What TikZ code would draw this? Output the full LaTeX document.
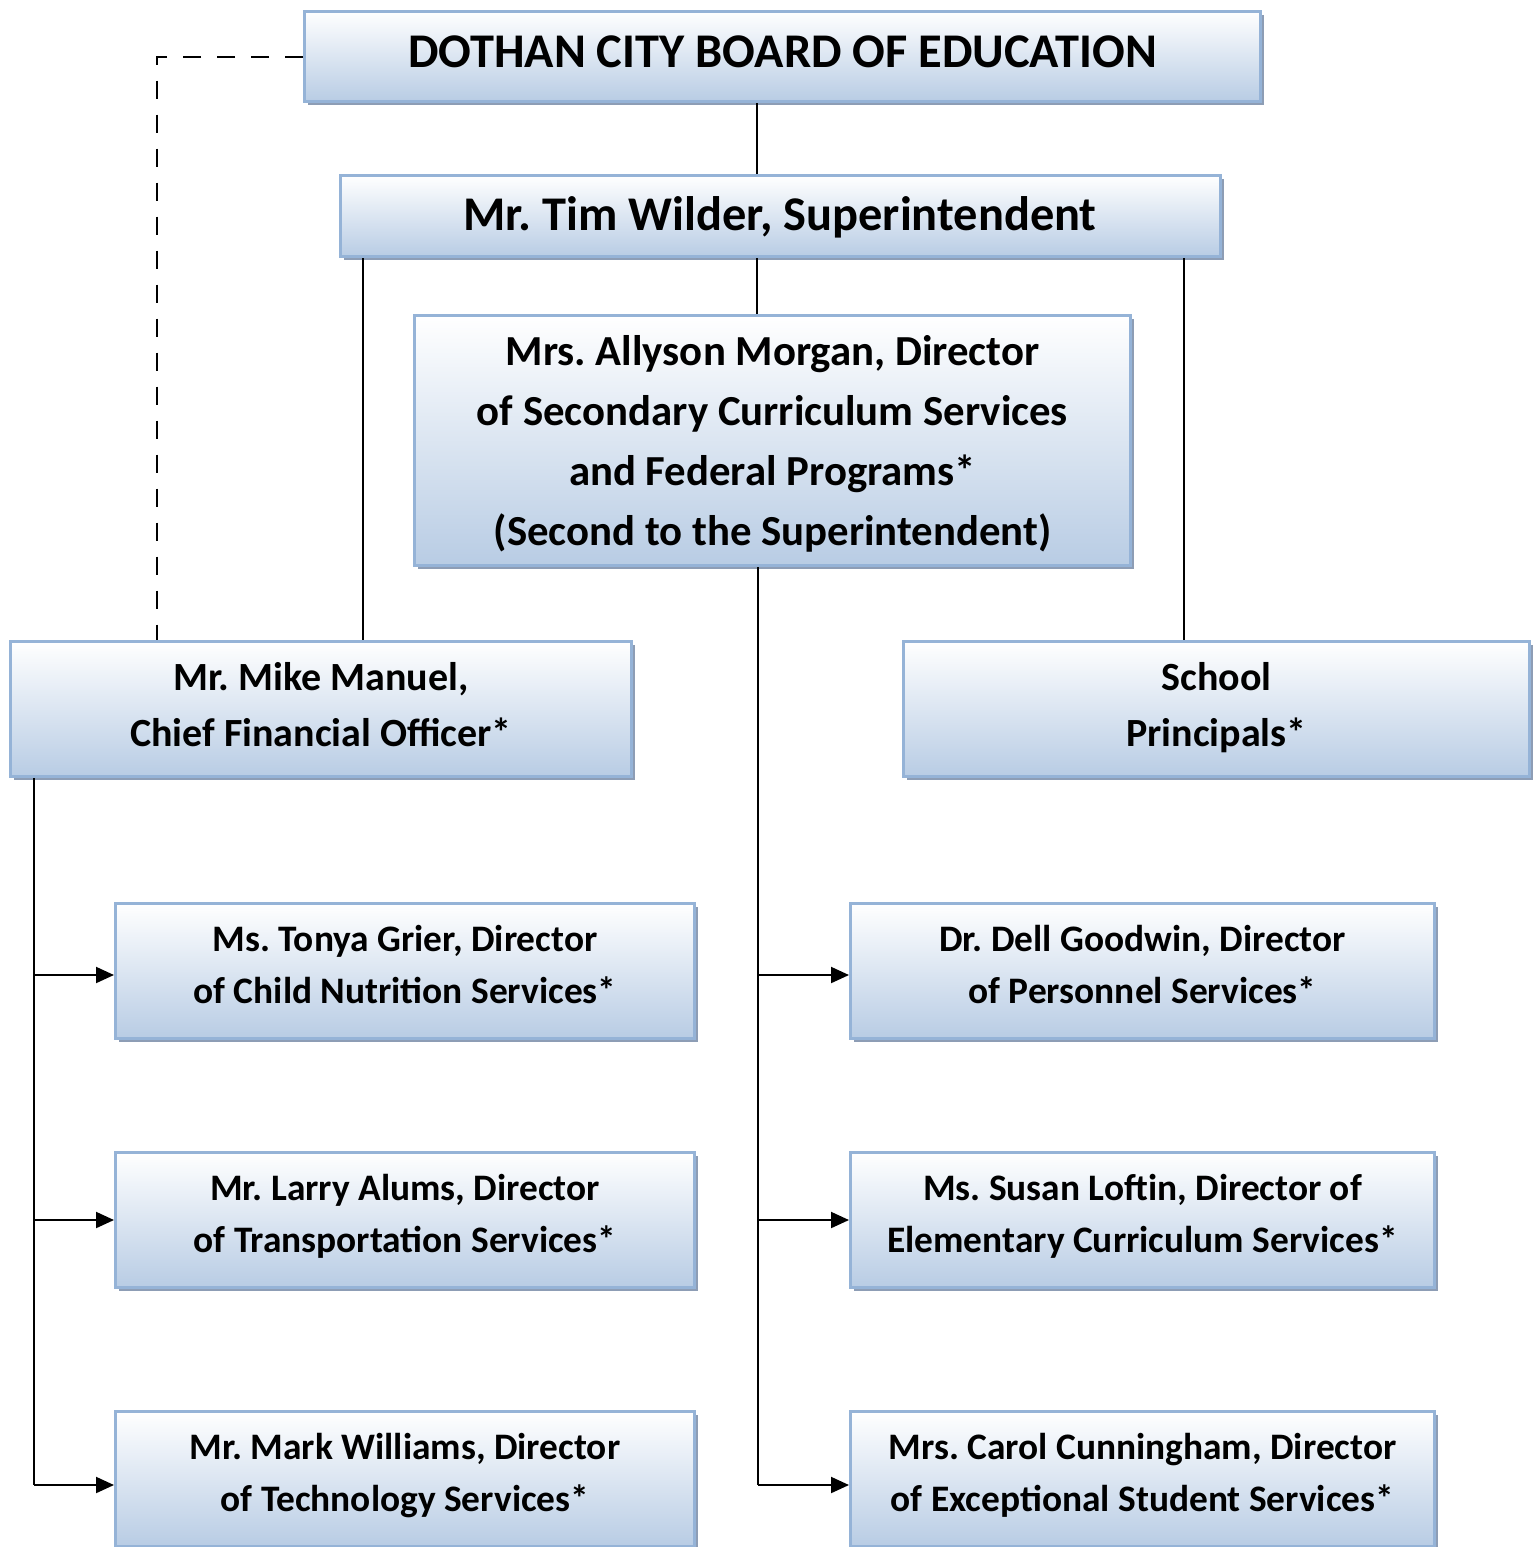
\documentclass[tikz,border=0pt]{standalone}
\usepackage{fontspec}
\setmainfont{Carlito}
\frenchspacing
\usetikzlibrary{arrows.meta,shadows}
\definecolor{boxtop}{RGB}{255,255,255}
\definecolor{boxbot}{RGB}{184,204,228}
\definecolor{boxline}{RGB}{149,179,215}
\definecolor{boxshade}{RGB}{141,157,181}
\tikzstyle{orgbox}=[draw=boxline,line width=1.5pt,top color=boxtop,bottom color=boxbot,
  drop shadow={shadow xshift=1.8pt,shadow yshift=-1.8pt,fill=boxshade,opacity=1},
  align=center,inner sep=0pt,font=\bfseries]
\tikzstyle{smallbox}=[orgbox,minimum height=67.5pt,text depth=6.5pt,font=\bfseries\fontsize{18.7}{26}\selectfont]
\tikzstyle{link}=[line width=1pt]
\tikzstyle{feed}=[line width=1pt,-{Triangle[length=9pt,width=8pt]}]

\begin{document}
\begin{tikzpicture}[x=0.5pt,y=-0.5pt]
			\useasboundingbox (0,0) rectangle (1540,1547);
			\node[orgbox,minimum width=478pt,minimum height=45pt,font=\bfseries\fontsize{24.2}{28}\selectfont]
				(board)  at (782.5,56.5) {DOTHAN CITY BOARD OF EDUCATION\strut};
			\node[orgbox,minimum width=440pt,minimum height=40.5pt,text depth=2pt,font=\bfseries\fontsize{24.2}{28}\selectfont]
				(super)  at (780,216)    {Mr. Tim Wilder, Superintendent};
			\node[orgbox,minimum width=358pt,minimum height=125pt,text depth=-2pt,font=\bfseries\fontsize{21.4}{30}\selectfont]
				(second) at (772.5,440.5) {Mrs. Allyson Morgan, Director\\of Secondary Curriculum Services\\and Federal Programs*\\(Second to the Superintendent)};
			\node[orgbox,minimum width=310.5pt,minimum height=67.5pt,text depth=5pt,font=\bfseries\fontsize{20}{28}\selectfont]
				(cfo)    at (321,709)    {Mr. Mike Manuel,\\Chief Financial Officer*};
			\node[orgbox,minimum width=313pt,minimum height=67.5pt,text depth=5pt,font=\bfseries\fontsize{20}{28}\selectfont]
				(princ)  at (1216.5,709) {School\\Principals*};
			% left column
			\node[smallbox,minimum width=289.5pt] (nutr)  at (405,971)  {Ms. Tonya Grier, Director\\of Child Nutrition Services*};
			\node[smallbox,minimum width=289.5pt] (trans) at (405,1220) {Mr. Larry Alums, Director\\of Transportation Services*};
			\node[smallbox,minimum width=289.5pt] (tech)  at (405,1479) {Mr. Mark Williams, Director\\of Technology Services*};
			% right column
			\node[smallbox,minimum width=292pt] (pers) at (1142.5,971)  {Dr. Dell Goodwin, Director\\of Personnel Services*};
			\node[smallbox,minimum width=292pt] (elem) at (1142.5,1220) {Ms. Susan Loftin, Director of\\Elementary Curriculum Services*};
			\node[smallbox,minimum width=292pt] (exc)  at (1142.5,1479) {Mrs. Carol Cunningham, Director\\of Exceptional Student Services*};
			\coordinate (spine) at (757,0);
			\coordinate (fin)   at (363,0);
			\coordinate (sch)   at (1184,0);
			\coordinate (dash)  at (157,0);
			\coordinate (lt)    at (34,0);
			\coordinate (rt)    at (758,0);
			\draw[link] (board.south -| spine) -- (super.north -| spine);
			\draw[link] (super.south -| spine) -- (second.north -| spine);
			\draw[link] (super.south -| fin) -- (cfo.north -| fin);
			\draw[link] (super.south -| sch) -- (princ.north -| sch);
			\draw[link,dash pattern=on 9pt off 8pt] (board.west) -| (cfo.north -| dash);
			\draw[link] (cfo.south -| lt) -- ([yshift=-3pt]tech.west -| lt);
			\draw[link] (second.south -| rt) -- ([yshift=-3pt]exc.west -| rt);
			\draw[feed] ([yshift=-2pt]nutr.west -| lt) -- ([yshift=-2pt]nutr.west);
			\draw[feed] (trans.west -| lt) -- (trans.west);
			\draw[feed] ([yshift=-3pt]tech.west -| lt) -- ([yshift=-3pt]tech.west);
			\draw[feed] ([yshift=-2pt]pers.west -| rt) -- ([yshift=-2pt]pers.west);
			\draw[feed] (elem.west -| rt) -- (elem.west);
			\draw[feed] ([yshift=-3pt]exc.west -| rt) -- ([yshift=-3pt]exc.west);
		\end{tikzpicture}
\end{document}
